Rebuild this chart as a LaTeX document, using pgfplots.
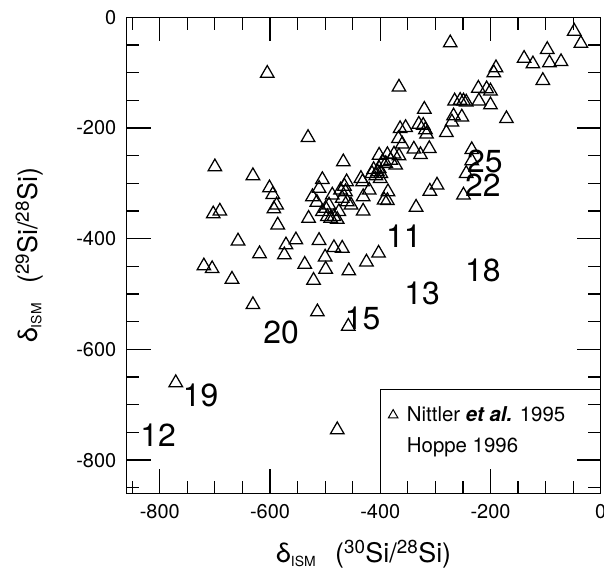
\documentclass[border=0pt]{standalone}
\usepackage{fontspec}
\setmainfont{TeX Gyre Heros}
\usepackage{pgfplots}
\pgfplotsset{compat=1.18}
\begin{document}
\begin{tikzpicture}
\begin{axis}[
  name=ax,
  scale only axis,
  width=474bp, height=476bp,
  xmin=-860, xmax=0, ymin=-860, ymax=0,
  xtick={-800,-600,-400,-200,0},
  ytick={-800,-600,-400,-200,0},
  minor xtick={-850,-750,-700,-650,-550,-500,-450,-350,-300,-250,-150,-100,-50},
  minor ytick={-850,-750,-700,-650,-550,-500,-450,-350,-300,-250,-150,-100,-50},
  tick align=inside,
  major tick length=24bp,
  minor tick length=12.5bp,
  axis line style={line width=1.2bp},
  tick style={line width=1.2bp, black},
  tick label style={font=\fontsize{20}{20}\selectfont},
  xticklabel style={yshift=-8bp},
  yticklabel style={xshift=-7bp},
  /pgf/number format/assume math mode=true,
  xlabel={δ\textsubscript{\fontsize{14}{14}\selectfont ISM}\hspace{0.7em}(\textsuperscript{30}Si/\textsuperscript{28}Si)},
  ylabel={δ\textsubscript{\fontsize{14}{14}\selectfont ISM}\hspace{0.7em}(\textsuperscript{29}Si/\textsuperscript{28}Si)},
  label style={font=\fontsize{27}{27}\selectfont},
  xlabel style={yshift=-14bp},
  ylabel style={yshift=26bp},
  legend style={at={(axis cs:-396,-700)}, anchor=north west, draw=none, fill=none,
    font=\fontsize{20.5}{20.5}\selectfont, inner xsep=2bp, inner ysep=0bp, row sep=10bp},
  legend cell align=left,
]
\addplot[only marks, mark=triangle, mark size=7.8bp, mark options={line width=1.25bp, black, yshift=-1.8bp}, forget plot] coordinates {
(-48,-22) (-36,-44) (-97,-55) (-139,-71) (-123,-81) (-93,-79) (-72,-77) (-105,-111)
(-190,-88) (-194,-97) (-273,-43) (-366,-123) (-222,-125) (-207,-126) (-200,-130)
(-221,-148) (-200,-155) (-265,-148) (-255,-147) (-249,-148) (-244,-150) (-267,-175)
(-252,-177) (-270,-186) (-171,-180) (-320,-163) (-330,-190) (-322,-192) (-318,-200)
(-316,-208) (-280,-205) (-364,-198) (-354,-196) (-367,-216) (-360,-226) (-339,-235)
(-327,-245) (-311,-234) (-234,-236) (-234,-256) (-244,-279) (-249,-318) (-297,-300)
(-310,-311) (-335,-340) (-402,-246) (-387,-245) (-375,-244) (-366,-247) (-396,-258)
(-381,-255) (-372,-264) (-402,-270) (-399,-279) (-390,-261) (-415,-279) (-408,-283)
(-400,-288) (-412,-272) (-405,-276) (-432,-294) (-435,-288) (-420,-309) (-431,-321)
(-431,-347) (-386,-312) (-393,-327) (-387,-328) (-467,-258) (-461,-294) (-472,-309)
(-469,-324) (-460,-330) (-453,-336) (-487,-318) (-484,-357) (-490,-360) (-505,-290)
(-511,-306) (-465,-302) (-463,-312) (-523,-321) (-515,-331) (-493,-336) (-530,-360)
(-505,-348) (-496,-357) (-478,-362) (-499,-342) (-475,-348)
(-605,-98) (-531,-214) (-700,-267) (-631,-283) (-601,-305) (-595,-317) (-588,-336)
(-593,-343) (-586,-372) (-703,-352) (-691,-347) (-658,-401) (-619,-424) (-571,-408)
(-553,-399) (-574,-426) (-511,-400) (-537,-443) (-500,-430) (-499,-452) (-521,-472)
(-514,-529) (-484,-413) (-469,-414) (-720,-446) (-705,-451) (-669,-470) (-631,-516)
(-771,-657) (-478,-742) (-457,-455) (-425,-439) (-403,-423) (-458,-555)
};
\addlegendimage{only marks, mark=triangle, mark size=5.5bp, mark options={line width=1bp, black}}
\addlegendentry{\hspace{7bp}Nittler \textbf{\textit{et al.}} 1995}
\addlegendimage{empty legend}
\addlegendentry{\hspace{7bp}Hoppe 1996}
\draw[line width=1.2bp] (axis cs:-400,-860) -- (axis cs:-400,-673) -- (axis cs:0,-673);
\begin{scope}[every node/.style={font=\fontsize{32}{32}\selectfont, inner sep=0pt}]
\node at (axis cs:-210,-261) {25};
\node at (axis cs:-214,-303) {22};
\node at (axis cs:-357,-396) {11};
\node at (axis cs:-214,-457) {18};
\node at (axis cs:-324,-499) {13};
\node at (axis cs:-432,-544) {15};
\node at (axis cs:-580,-570) {20};
\node at (axis cs:-726,-684) {19};
\node at (axis cs:-803,-755) {12};
\end{scope}
\end{axis}
\pgfresetboundingbox
\path[use as bounding box] ([xshift=-126.7bp,yshift=-80.7bp]ax.south west) rectangle ([xshift=3.3bp,yshift=17.3bp]ax.north east);
\end{tikzpicture}
\end{document}
